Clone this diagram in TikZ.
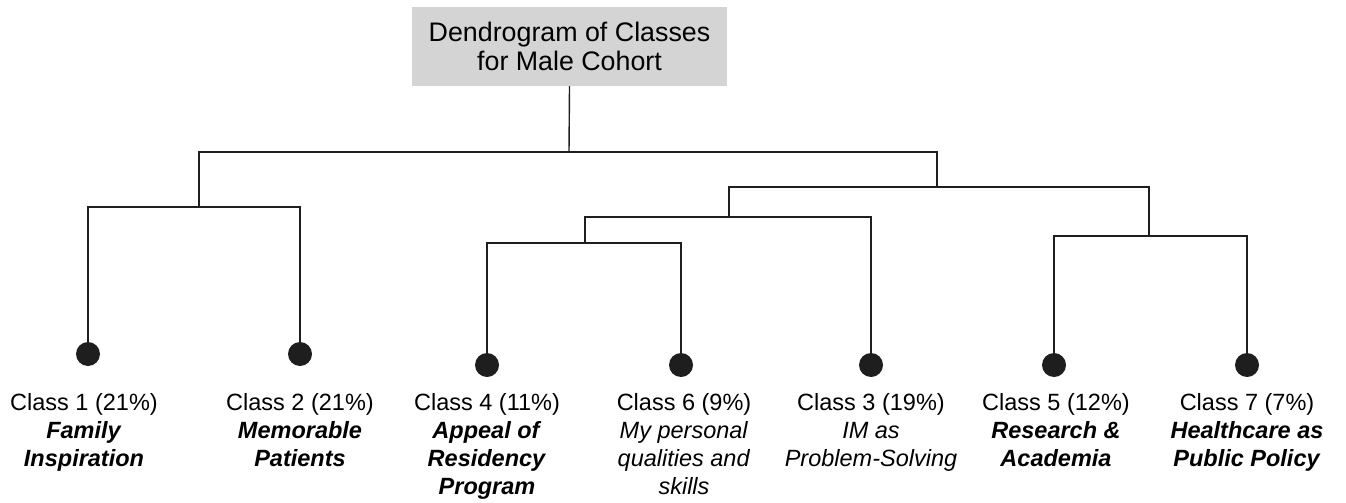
\documentclass[tikz,border=0pt]{standalone}
\usepackage{fontspec}
\setmainfont{Liberation Sans}
\definecolor{boxgray}{RGB}{212,212,213}
\definecolor{ink}{RGB}{30,30,30}
\begin{document}
\begin{tikzpicture}[x=1pt,y=-1pt,
  titlebox/.style={fill=boxgray, minimum width=315pt, minimum height=79pt, inner sep=0pt, align=center, font=\fontsize{26.8}{28.5}\selectfont},
  leaf/.style={circle, fill=ink, minimum size=24pt, inner sep=0pt},
  lbl/.style={anchor=north, align=center, inner sep=0pt, font=\fontsize{23.5}{28}\selectfont},
  link/.style={draw=ink, line width=1.4pt}]
\useasboundingbox (0,0) rectangle (1346,503);
\node[titlebox] (title) at (569.5,46.5) {Dendrogram of Classes\\for Male Cohort};
% leaves
\node[leaf] (d1) at (88,354) {};
\node[leaf] (d2) at (300,354) {};
\node[leaf] (d4) at (487,365) {};
\node[leaf] (d6) at (681,365) {};
\node[leaf] (d3) at (871,365) {};
\node[leaf] (d5) at (1054,365) {};
\node[leaf] (d7) at (1247,365) {};
% junctions
\coordinate (j0) at (569,152);
\coordinate (jL) at (199,207);
\coordinate (jR) at (937,187);
\coordinate (jA) at (729,217);
\coordinate (jB) at (585,243);
\coordinate (jC) at (1149,236);
% connectors
\draw[link] (title.south) -- (j0);
\draw[link] (jL) |- (j0) -| (jR);
\draw[link] (d1) |- (jL) -| (d2);
\draw[link] (jA) |- (jR) -| (jC);
\draw[link] (jB) |- (jA) -| (d3);
\draw[link] (d4) |- (jB) -| (d6);
\draw[link] (d5) |- (jC) -| (d7);
% labels
\node[lbl] (l1) at (84,390.8) {\strut Class 1 (21\%)\\\textbf{\textit{Family}}\\\textbf{\textit{Inspiration}}};
\node[lbl] (l2) at (300,390.8) {\strut Class 2 (21\%)\\\textbf{\textit{Memorable}}\\\textbf{\textit{Patients}}};
\node[lbl] (l4) at (487,390.8) {\strut Class 4 (11\%)\\\textbf{\textit{Appeal of}}\\\textbf{\textit{Residency}}\\\textbf{\textit{Program}}};
\node[lbl] (l6) at (684,390.8) {\strut Class 6 (9\%)\\\textit{My personal}\\\textit{qualities and}\\\textit{skills}};
\node[lbl] (l3) at (871,390.8) {\strut Class 3 (19\%)\\\textit{IM as}\\\textit{Problem-Solving}};
\node[lbl] (l5) at (1056,390.8) {\strut Class 5 (12\%)\\\textbf{\textit{Research \&}}\\\textbf{\textit{Academia}}};
\node[lbl] (l7) at (1247,390.8) {\strut Class 7 (7\%)\\\textbf{\textit{Healthcare as}}\\\textbf{\textit{Public Policy}}};
\end{tikzpicture}
\end{document}
